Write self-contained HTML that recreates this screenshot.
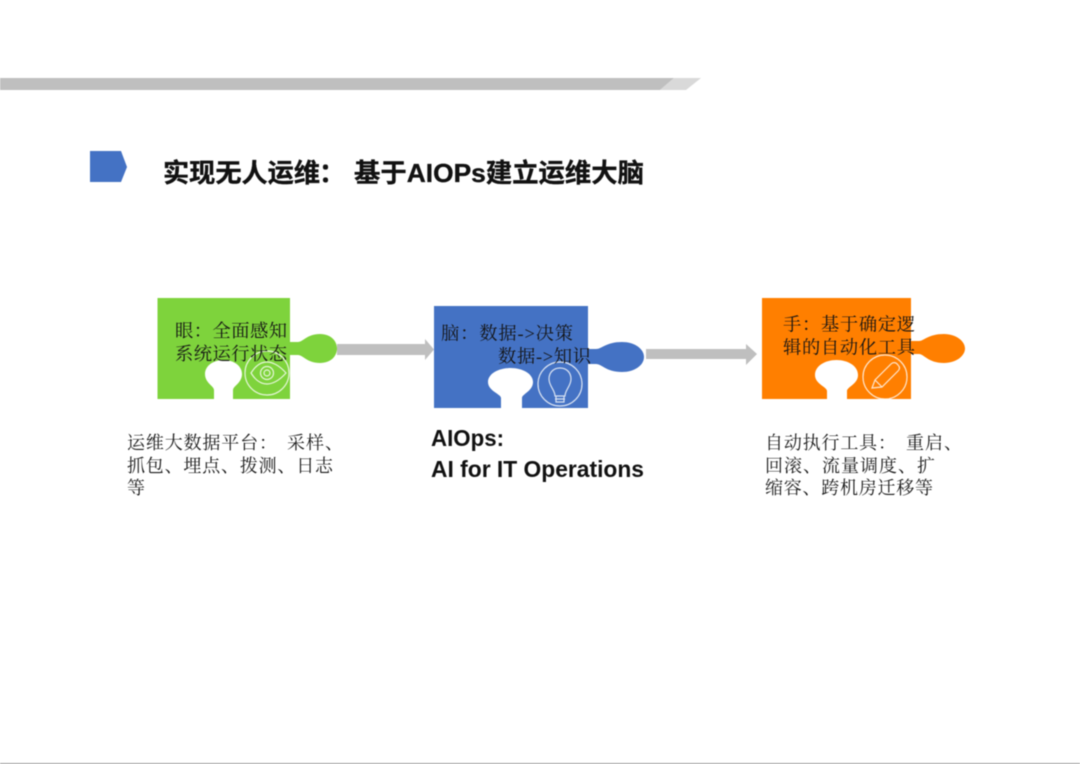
<!DOCTYPE html>
<html lang="zh"><head><meta charset="utf-8"><title>AIOps</title>
<style>html,body{margin:0;padding:0;background:#fff;width:1080px;height:764px;overflow:hidden}svg{display:block;filter:blur(.5px)}
.s{font-family:"Liberation Serif","Noto Serif CJK SC",serif;font-size:18px;fill:#1a1a1a}
.t{font-family:"Liberation Serif","Noto Serif CJK SC",serif;font-size:18.3px;fill:#141414}
.b{font-family:"Liberation Sans","Noto Sans CJK SC",sans-serif;font-weight:700;fill:#111}
.h{stroke:#111;stroke-width:.35}
.i{fill:none;stroke:#fff;stroke-opacity:.8;stroke-width:1.2}</style></head><body>
<svg width="1080" height="764" viewBox="0 0 1080 764" xmlns="http://www.w3.org/2000/svg">
<rect width="1080" height="764" fill="#fff"/>
<polygon points="0,78 674,78 660,90 0,90" fill="#bfbfbf"/>
<polygon points="674,78 701,78 686,90 660,90" fill="#d9d9d9"/>
<rect x="0" y="763" width="1080" height="1" fill="#999"/>
<polygon points="90,151 121,151 127,167 121,182 90,182" fill="#4472c4"/>
<text class="b h" x="163" y="182" font-size="26" textLength="157" lengthAdjust="spacingAndGlyphs">实现无人运维</text>
<text class="b h" x="319" y="182" font-size="26">：</text>
<text class="b h" x="354" y="182" font-size="26" textLength="290" lengthAdjust="spacingAndGlyphs">基于AIOPs建立运维大脑</text>

<polygon points="337,344 425,344 425,339 434,349.500 425,360 425,355 337,355" fill="#bfbfbf"/>
<polygon points="646,349 746,349 746,344 757,354 746,365 746,359 646,359" fill="#bfbfbf"/>

<!-- green -->
<path d="M157.500,298H290V342H298C303,342 307,334 320,334C331,334 337,341 337,348.500C337,356 331,363 320,363C307,363 303,355 298,355H290V399H233V390C233,386 242,383 242,374C242,366 234,360 223.500,360C213,360 205,366 205,374C205,383 214,386 214,390V399H157.500Z" fill="#7ed33c"/>
<circle class="i" cx="267" cy="373" r="22"/>
<path class="i" d="M251,373C256,365 262,362 267,362C272,362 279,365 286,373C279,381 272,384 267,384C262,384 256,381 251,373Z"/>
<circle class="i" cx="267" cy="373" r="6.500"/><circle class="i" cx="267" cy="373" r="3"/>
<text class="t" x="175" y="337" textLength="112">眼：全面感知</text>
<text class="t" x="175" y="360" textLength="112">系统运行状态</text>

<!-- blue -->
<path d="M434,306H588V349H596C602,349 606,342 622,342C635,342 644,349 644,357C644,365 635,372 622,372C606,372 602,364 596,364H588V408H522V398C522,394 533,391 533,382C533,374 523,368 510.500,368C498,368 488,374 488,382C488,391 501,394 501,398V408H434Z" fill="#4472c4"/>
<circle class="i" cx="560" cy="384" r="22"/>
<path class="i" d="M555,396C555,390 549,386 549,379C549,372 554,368 560,368C566,368 571,372 571,379C571,386 565,390 565,396ZM555,399H565M556,396V402H564V396"/>
<text class="t" x="441" y="339.500" textLength="132">脑：数据-&gt;决策</text>
<text class="t" x="498" y="362.500" textLength="93">数据-&gt;知识</text>

<!-- orange -->
<path d="M762,298H911V341H919C924,341 928,334 944,334C956,334 965,341 965,348.500C965,356 956,363 944,363C928,363 924,354 919,354H911V399H847V391C847,387 858,384 858,375C858,366 848,360 836.500,360C825,360 815,366 815,375C815,384 827,387 827,391V399H762Z" fill="#ff7f00"/>
<circle class="i" cx="885" cy="377" r="22"/>
<path class="i" d="M872,388L875,380L891,364C893,362 896,362 898,365C900,367 900,369 898,371L882,387ZM875,380L882,387"/>
<text class="t" x="783" y="330.500" textLength="132">手：基于确定逻</text>
<text class="t" x="783" y="353.500" textLength="132">辑的自动化工具</text>

<!-- captions -->
<text class="s" x="127" y="449" textLength="150">运维大数据平台：</text>
<text class="s" x="287" y="449" textLength="56">采样、</text>
<text class="s" x="127" y="472" textLength="206">抓包、埋点、拨测、日志</text>
<text class="s" x="127" y="494">等</text>
<text class="b" x="431" y="446" font-size="23" textLength="73" lengthAdjust="spacingAndGlyphs">AIOps:</text>
<text class="b" x="431" y="477" font-size="23" textLength="213" lengthAdjust="spacingAndGlyphs">AI for IT Operations</text>
<text class="s" x="765" y="449" textLength="131">自动执行工具：</text>
<text class="s" x="906" y="449" textLength="56">重启、</text>
<text class="s" x="765" y="472" textLength="170">回滚、流量调度、扩</text>
<text class="s" x="765" y="494" textLength="168">缩容、跨机房迁移等</text>
</svg></body></html>
